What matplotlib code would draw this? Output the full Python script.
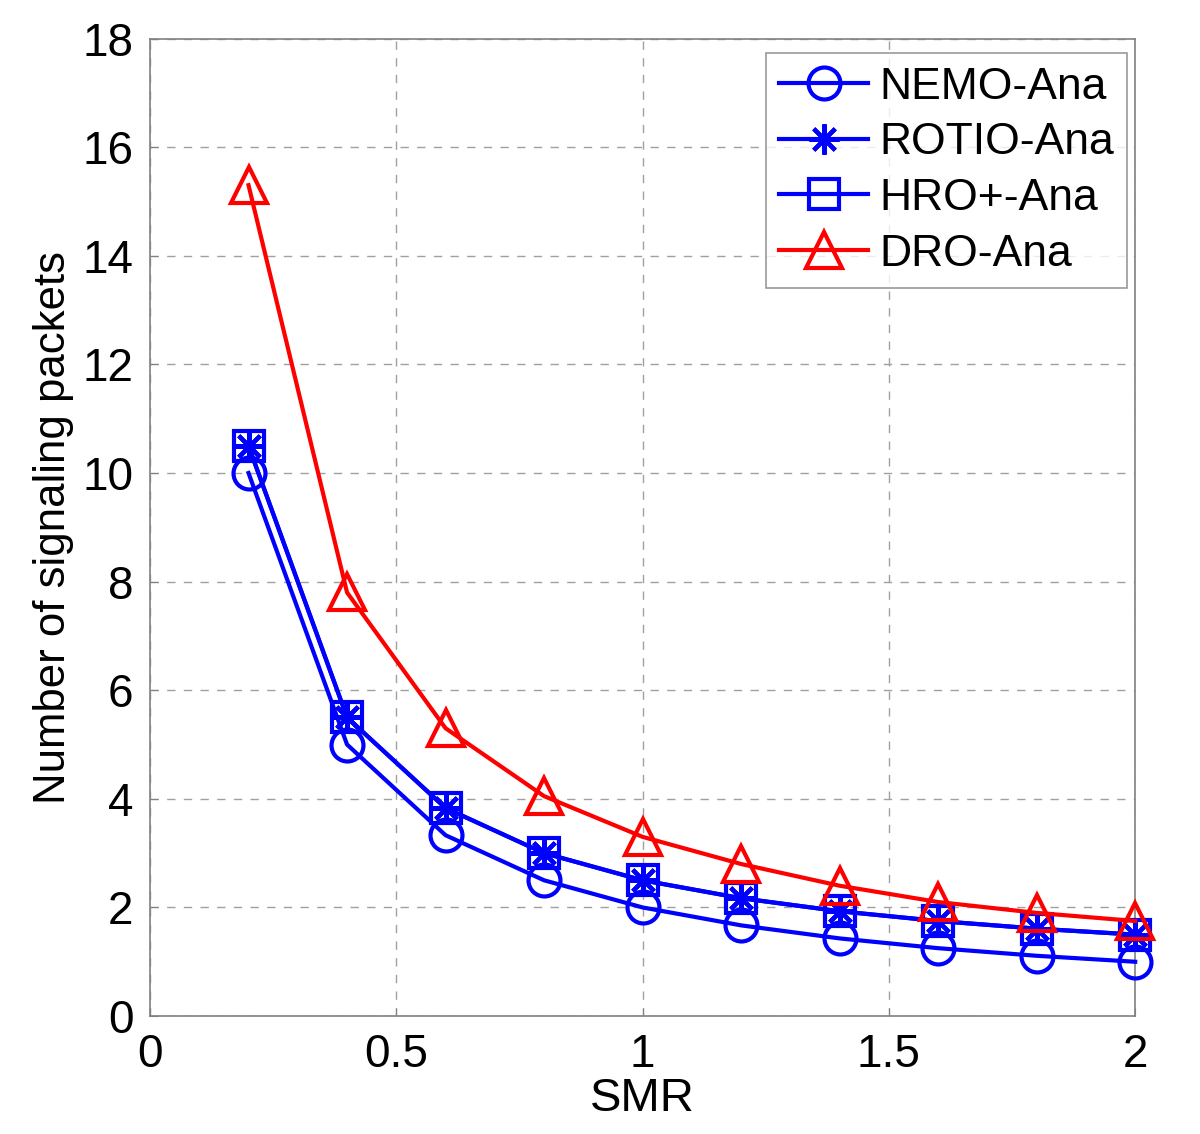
import matplotlib
matplotlib.use("Agg")
import matplotlib.pyplot as plt

plt.rcParams['font.family'] = ['Liberation Sans', 'DejaVu Sans']

# SMR values
smr = [0.2, 0.4, 0.6, 0.8, 1.0, 1.2, 1.4, 1.6, 1.8, 2.0]

# number of signaling packets
nemo = [10.0, 5.0, 3.33, 2.5, 2.0, 1.67, 1.43, 1.25, 1.11, 1.0]
rotio = [10.5, 5.5, 3.83, 3.0, 2.5, 2.17, 1.93, 1.75, 1.61, 1.5]
hro = [10.5, 5.5, 3.83, 3.0, 2.5, 2.17, 1.93, 1.75, 1.61, 1.5]
dro = [15.3, 7.8, 5.3, 4.05, 3.3, 2.8, 2.4, 2.1, 1.9, 1.75]

xticks = [0, 0.5, 1, 1.5, 2]
yticks = list(range(0, 19, 2))

fig = plt.figure(figsize=(12, 11.34), dpi=100)
ax = fig.add_axes([0.125, 0.104, 0.821, 0.862])

lw = 3
ms = 23
ax.plot(smr, nemo, color='blue', lw=lw, marker='o', ms=ms, mfc='none', mew=lw,
        label='NEMO-Ana', clip_on=False, zorder=3)
ax.plot(smr, rotio, color='blue', lw=lw, marker=(8, 2, 0), ms=ms * 0.95, mew=lw,
        label='ROTIO-Ana', clip_on=False, zorder=3)
ax.plot(smr, hro, color='blue', lw=lw, marker='s', ms=ms * 0.95, mfc='none', mew=lw,
        label='HRO+-Ana', clip_on=False, zorder=3)
ax.plot(smr, dro, color='red', lw=lw, marker='^', ms=ms * 1.15, mfc='none', mew=lw,
        label='DRO-Ana', clip_on=False, zorder=4)

ax.set_xlim(0, 2)
ax.set_ylim(0, 18)
ax.set_xticks(xticks)
ax.set_xticklabels(['0', '0.5', '1', '1.5', '2'])
ax.set_yticks(yticks)
ax.tick_params(labelsize=33, direction='in', length=6, color='#808080')
ax.tick_params(axis='y', pad=12)
ax.tick_params(axis='x', pad=12)
ax.grid(True, linestyle=(0, (6, 6)), color='#a0a0a0', lw=1)
for s in ax.spines.values():
    s.set_color('#808080')
    s.set_linewidth(1.2)

ax.set_xlabel('SMR', fontsize=34, labelpad=0)
ax.set_ylabel('Number of signaling packets', fontsize=31.5, labelpad=6)

leg = ax.legend(loc='upper right', fontsize=32, frameon=True, fancybox=False,
                edgecolor='#808080', handlelength=2.0, handletextpad=0.25,
                borderpad=0.3, labelspacing=0.33, borderaxespad=0,
                bbox_to_anchor=(0.992, 0.985))
leg.get_frame().set_linewidth(1.2)

fig.savefig('out.png', dpi=100)
